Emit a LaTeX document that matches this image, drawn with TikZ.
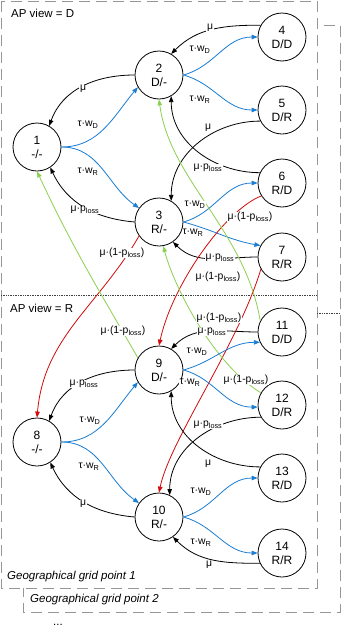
\documentclass[tikz,border=0pt]{standalone}
\usepackage{fontspec}
\setmainfont{Liberation Sans}
\usetikzlibrary{arrows.meta}
\definecolor{eblue}{RGB}{25,125,210}
\definecolor{ered}{RGB}{210,10,10}
\definecolor{egreen}{RGB}{140,208,80}
\definecolor{boxgray}{RGB}{150,150,150}
\begin{document}
\begin{tikzpicture}[x=1pt,y=1pt,
  st/.style={circle,draw,line width=0.8pt,fill=white,minimum size=48pt,inner sep=0pt,align=center,font=\fontsize{12}{14}\selectfont},
  lbl/.style={fill=white,inner sep=0.6pt,font=\fontsize{10.4}{12}\selectfont},
  con/.style={line width=0.8pt,-{Triangle[length=6pt,width=4.5pt]}},
  ek/.style={con,black},
  eb/.style={con,eblue},
  er/.style={con,ered},
  eg/.style={con,egreen},
  gbox/.style={draw=boxgray,line width=0.9pt,dash pattern=on 11pt off 6pt,fill=white},
  divider/.style={draw=black!75,line width=0.7pt,densely dotted},
  hdr/.style={font=\fontsize{11.5}{13}\selectfont,anchor=west,inner sep=0pt}]
\useasboundingbox (0,0) rectangle (341,-627);
% grid point boxes
\path[gbox] (23,-25) rectangle (340,-612);
\path[gbox] (1,-1) rectangle (317,-588);
\draw[divider] (1,-295) -- (317,-295);
\draw[divider] (317,-313) -- (340,-313);
\node[hdr] (apd) at (11,-13) {AP view = D};
\node[hdr] (apr) at (10,-308) {AP view = R};
\node[hdr,font=\fontsize{11.5}{13}\selectfont\itshape] (gp1) at (7,-577) {Geographical grid point 1};
\node[hdr,font=\fontsize{11.5}{13}\selectfont\itshape] (gp2) at (30,-600) {Geographical grid point 2};
\node[hdr,anchor=base west] (dots) at (53,-625.5) {...};
% states
\node[st] (n1) at (37,-147) {1\\-/-};
\node[st] (n2) at (159,-75) {2\\D/-};
\node[st] (n3) at (159,-222) {3\\R/-};
\node[st] (n4) at (282,-37) {4\\D/D};
\node[st] (n5) at (282,-110) {5\\D/R};
\node[st] (n6) at (282,-183) {6\\R/D};
\node[st] (n7) at (282,-257) {7\\R/R};
\node[st] (n8) at (37,-442) {8\\-/-};
\node[st] (n9) at (159,-370) {9\\D/-};
\node[st] (n10) at (159,-517) {10\\R/-};
\node[st] (n11) at (282,-332) {11\\D/D};
\node[st] (n12) at (282,-405) {12\\D/R};
\node[st] (n13) at (282,-478) {13\\R/D};
\node[st] (n14) at (282,-553) {14\\R/R};
% upper half
\draw[ek] (n2.180) to[out=180,in=70] (n1.60);
\draw[eb] (n1.0) to[out=0,in=230] (n2.210);
\draw[eb] (n1.0) to[out=0,in=145] (n3.145);
\draw[ek] (n3.180) to[out=175,in=-65] (n1.-57);
\draw[eb] (n2.0) to[out=15,in=180] (n4.180);
\draw[ek] (n4.151) to[out=180,in=45] (n2.60);
\draw[eb] (n2.0) to[out=-15,in=180] (n5.180);
\draw[ek] (n5.207) to[out=180,in=90] (n3.60);
\draw[ek] (n6.155) to[out=180,in=-90] (n2.-60);
\draw[eb] (n3.0) to[out=15,in=180] (n6.180);
\draw[eb] (n3.0) to[out=-15,in=170] (n7.152);
\draw[ek] (n7.180) to[out=180,in=-45] (n3.-55);
% cross edges
\draw[er] (n6.212) .. controls (225,-210) and (172,-285) .. (n9.90);
\draw[er] (n7.210) .. controls (238,-345) and (170,-440) .. (n10.90);
\draw[er] (n3.215) to[out=240,in=85] (n8.90);
\draw[eg] (n11.153) .. controls (245,-230) and (170,-180) .. (n2.270);
\draw[eg] (n12.150) .. controls (215,-365) and (175,-290) .. (n3.-80);
\draw[eg] (n9.150) to[out=120,in=-65] (n1.-90);
% lower half
\draw[ek] (n9.180) to[out=180,in=70] (n8.60);
\draw[eb] (n8.0) to[out=0,in=230] (n9.210);
\draw[eb] (n8.0) to[out=0,in=145] (n10.145);
\draw[ek] (n10.180) to[out=175,in=-65] (n8.-57);
\draw[eb] (n9.0) to[out=15,in=180] (n11.205);
\draw[ek] (n11.180) to[out=180,in=45] (n9.60);
\draw[eb] (n9.0) to[out=-15,in=180] (n12.185);
\draw[ek] (n12.210) to[out=180,in=90] (n10.64);
\draw[ek] (n13.153) to[out=180,in=-90] (n9.-60);
\draw[eb] (n10.0) to[out=15,in=180] (n13.180);
\draw[eb] (n10.0) to[out=-15,in=180] (n14.180);
\draw[ek] (n14.205) to[out=180,in=-45] (n10.-55);
% labels
\node[lbl] (L1) at (83,-89) {μ};
\node[lbl] (L2) at (88,-125) {τ·w\textsubscript{D}};
\node[lbl] (L3) at (88,-172) {τ·w\textsubscript{R}};
\node[lbl] (L4) at (85,-210) {μ·p\textsubscript{loss}};
\node[lbl] (L5) at (200,-50) {τ·w\textsubscript{D}};
\node[lbl] (L6) at (210,-28) {μ};
\node[lbl] (L7) at (200,-100) {τ·w\textsubscript{R}};
\node[lbl] (L8) at (208,-128) {μ};
\node[lbl] (L9) at (208,-168) {μ·p\textsubscript{loss}};
\node[lbl] (L10) at (195,-205) {τ·w\textsubscript{D}};
\node[lbl] (L11) at (193,-233) {τ·w\textsubscript{R}};
\node[lbl] (L12) at (220,-258) {μ·p\textsubscript{loss}};
\node[lbl] (L13) at (250,-217) {μ·(1-p\textsubscript{loss})};
\node[lbl] (L14) at (219,-318) {μ·(1-p\textsubscript{loss})};
\node[lbl] (L15) at (122,-253) {μ·(1-p\textsubscript{loss})};
\node[lbl] (L16) at (218,-277) {μ·(1-p\textsubscript{loss})};
\node[lbl] (L17) at (123,-331) {μ·(1-p\textsubscript{loss})};
\node[lbl] (L18) at (246,-380) {μ·(1-p\textsubscript{loss})};
\node[lbl] (L19) at (212,-332) {μ·p\textsubscript{loss}};
\node[lbl] (L20) at (197,-352) {τ·w\textsubscript{D}};
\node[lbl] (L21) at (190,-383) {τ·w\textsubscript{R}};
\node[lbl] (L22) at (84,-384) {μ·p\textsubscript{loss}};
\node[lbl] (L23) at (90,-421) {τ·w\textsubscript{D}};
\node[lbl] (L24) at (89,-467) {τ·w\textsubscript{R}};
\node[lbl] (L25) at (83,-504) {μ};
\node[lbl] (L26) at (208,-425) {μ·p\textsubscript{loss}};
\node[lbl] (L27) at (208,-464) {μ};
\node[lbl] (L28) at (201,-492) {τ·w\textsubscript{D}};
\node[lbl] (L29) at (201,-543) {τ·w\textsubscript{R}};
\node[lbl] (L30) at (209,-565) {μ};
\end{tikzpicture}
\end{document}
